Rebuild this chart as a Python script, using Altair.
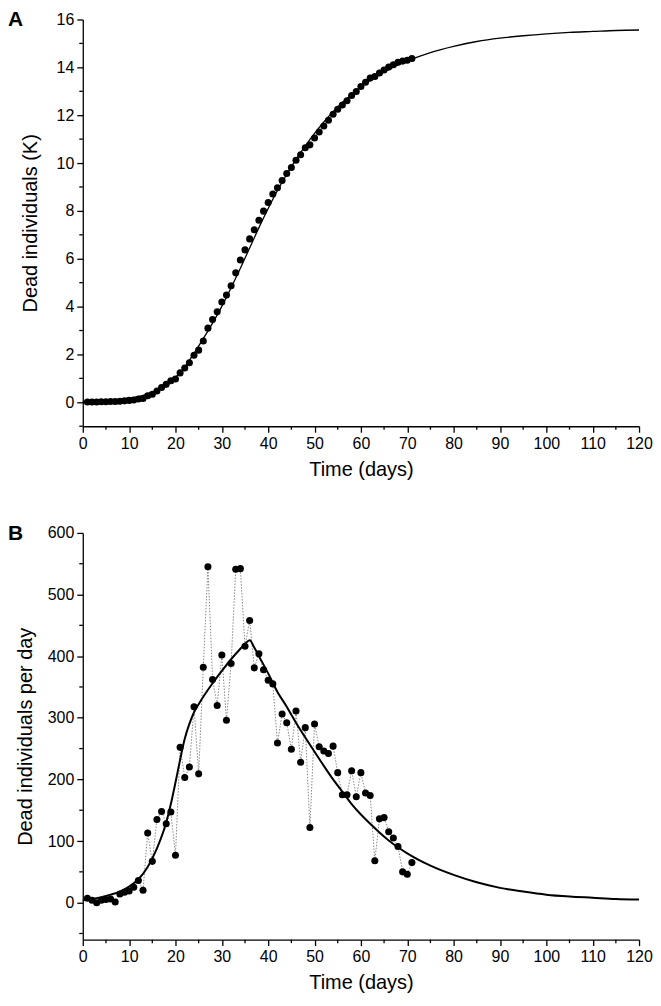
import altair as alt
import pandas as pd

FONT = "Liberation Sans"

# ---------------- data ----------------
days = list(range(1, 72))

cum_deaths_k = [
    0.01, 0.01, 0.01, 0.02, 0.02, 0.03, 0.03, 0.04, 0.06, 0.08,
    0.10, 0.14, 0.16, 0.27, 0.34, 0.47, 0.62, 0.75, 0.90, 0.97,
    1.23, 1.43, 1.65, 1.97, 2.18, 2.56, 3.10, 3.46, 3.78, 4.19,
    4.48, 4.87, 5.41, 5.95, 6.37, 6.83, 7.21, 7.61, 7.99, 8.35,
    8.71, 8.97, 9.27, 9.56, 9.81, 10.12, 10.35, 10.64, 10.76, 11.05,
    11.30, 11.55, 11.79, 12.04, 12.25, 12.43, 12.60, 12.82, 12.99, 13.20,
    13.38, 13.55, 13.62, 13.76, 13.89, 14.01, 14.11, 14.21, 14.26, 14.30, 14.37,
]

daily_deaths = [
    7, 4, 0, 4, 5, 6, 1, 14, 17, 19, 25, 36, 20,
    113, 67, 135, 148, 128, 147, 77,
    252, 203, 220, 318, 209, 382, 545,
    362, 320, 402, 296, 388, 541, 542,
    416, 458, 381, 404, 378, 361, 355,
    259, 306, 292, 249, 311, 228, 284,
    122, 290, 253, 246, 242, 254, 211,
    175, 175, 214, 172, 211, 178, 174,
    68, 136, 138, 115, 105, 91, 50, 46, 65,
]

fit_days_a = [0, 2, 4, 6, 8, 10, 12, 14, 16, 18, 20, 22, 24, 26, 28, 30, 32, 34,
              36, 38, 40, 42, 44, 46, 48, 50, 52, 54, 56, 58, 60, 62, 64, 66, 68,
              70, 75, 80, 85, 90, 95, 100, 105, 110, 115, 120]
fit_cum_k = [0.02, 0.03, 0.05, 0.08, 0.12, 0.17, 0.24, 0.35, 0.50, 0.73, 1.04,
             1.48, 2.05, 2.66, 3.31, 4.01, 4.79, 5.60, 6.45, 7.30, 8.10, 8.85,
             9.52, 10.15, 10.72, 11.24, 11.72, 12.15, 12.53, 12.87, 13.18, 13.45,
             13.69, 13.91, 14.10, 14.27, 14.62, 14.88, 15.08, 15.22, 15.32,
             15.40, 15.46, 15.50, 15.54, 15.56]

fit_days_b = [0, 2, 4, 6, 8, 10, 12, 14, 16, 18, 19, 20, 21, 22, 23, 24, 25, 26,
              28, 30, 32, 34, 35, 36, 37, 38, 40, 42, 44, 46, 48, 50, 52, 54, 56,
              58, 60, 62, 64, 66, 68, 70, 75, 80, 85, 90, 95, 100, 105, 110, 115, 120]
fit_daily = [4, 6, 9, 13, 18, 26, 38, 58, 88, 130, 160, 195, 232, 266, 290, 309,
             322, 334, 356, 376, 395, 412, 420, 426, 414, 400, 372, 342, 318, 292,
             268, 245, 222, 200, 180, 160, 143, 128, 114, 101, 90, 80, 60, 45, 33,
             24, 18, 13, 10, 8, 6, 5]

x_major = list(range(0, 121, 10))
x_minor = list(range(5, 120, 10))
ya_major = list(range(0, 17, 2))
ya_minor = [-1, 1, 3, 5, 7, 9, 11, 13, 15]
yb_major = list(range(0, 601, 100))
yb_minor = list(range(-50, 600, 100))

# ---------------- layout ----------------
W = 558
HA = 408
HB = 408
MAJ = 6
MIN = 3.5
LABEL_FS = 16
TITLE_FS = 20

dfA = pd.DataFrame({"day": days, "val": cum_deaths_k})
dfAfit = pd.DataFrame({"day": fit_days_a, "val": fit_cum_k})
dfB = pd.DataFrame({"day": days, "val": daily_deaths})
dfBfit = pd.DataFrame({"day": fit_days_b, "val": fit_daily})

xscale = alt.Scale(domain=[0, 120], nice=False, zero=False)


def x_axis():
    return alt.Axis(values=x_major, tickSize=MAJ, title="Time (days)", titlePadding=8,
                    labelPadding=3, labelFlush=False, labelOverlap=False)


def y_axis(values, title, pad):
    return alt.Axis(values=values, tickSize=MAJ, title=title, titlePadding=pad,
                    labelPadding=3, labelFlush=False, labelOverlap=False)


def panel(df_pts, df_fit, yscale, ymajor, yminor, ytitle, ypad, letter, height,
          fit_width, with_dots):
    layers = []
    if with_dots:
        layers.append(
            alt.Chart(df_pts).mark_line(color="#7a7a7a", strokeWidth=0.9, strokeDash=[1.5, 1.5]).encode(
                x=alt.X("day:Q", scale=xscale, axis=x_axis()),
                y=alt.Y("val:Q", scale=yscale, axis=y_axis(ymajor, ytitle, ypad)),
            )
        )
        fit_x = alt.X("day:Q", scale=xscale)
        fit_y = alt.Y("val:Q", scale=yscale)
    else:
        fit_x = alt.X("day:Q", scale=xscale, axis=x_axis())
        fit_y = alt.Y("val:Q", scale=yscale, axis=y_axis(ymajor, ytitle, ypad))
    layers.append(
        alt.Chart(df_fit).mark_line(color="black", strokeWidth=fit_width, interpolate="monotone").encode(
            x=fit_x, y=fit_y
        )
    )
    layers.append(
        alt.Chart(df_pts).mark_circle(color="black", size=50, opacity=1).encode(
            x=alt.X("day:Q", scale=xscale), y=alt.Y("val:Q", scale=yscale)
        )
    )
    # minor ticks on x axis (bottom, pointing down)
    layers.append(
        alt.Chart(pd.DataFrame({"v": x_minor})).mark_rule(color="black", strokeWidth=1.3).encode(
            x=alt.X("v:Q", scale=xscale),
            y=alt.value(height), y2=alt.value(height + MIN),
        )
    )
    # minor ticks on y axis (left, pointing left)
    layers.append(
        alt.Chart(pd.DataFrame({"v": yminor})).mark_rule(color="black", strokeWidth=1.3).encode(
            y=alt.Y("v:Q", scale=yscale),
            x=alt.value(-MIN), x2=alt.value(0),
        )
    )
    layers.append(
        alt.Chart(pd.DataFrame({"t": [letter]})).mark_text(
            font=FONT, fontSize=21, fontWeight="bold", align="left", baseline="middle", color="black"
        ).encode(text="t:N", x=alt.value(-75), y=alt.value(1))
    )
    return alt.layer(*layers).properties(width=W, height=height)


panelA = panel(dfA, dfAfit, alt.Scale(domain=[-1, 16], nice=False, zero=False),
               ya_major, ya_minor, "Dead individuals (K)", 16, "A", HA, 1.3, False)
panelB = panel(dfB, dfBfit, alt.Scale(domain=[-60, 600], nice=False, zero=False),
               yb_major, yb_minor, "Dead individuals per day", 12, "B", HB, 2, True)

chart = (
    alt.vconcat(panelA, panelB, spacing=44)
    .properties(padding={"left": 0, "top": 0, "right": 0, "bottom": 0})
    .configure_view(stroke=None)
    .configure_axis(
        grid=False,
        domainColor="black",
        domainWidth=1.3,
        tickColor="black",
        tickWidth=1.3,
        labelFont=FONT,
        labelFontSize=LABEL_FS,
        labelColor="black",
        titleFont=FONT,
        titleFontSize=TITLE_FS,
        titleFontWeight="normal",
        titleColor="black",
    )
)

chart.save("out.html", embed_options={"renderer": "svg", "actions": False})
